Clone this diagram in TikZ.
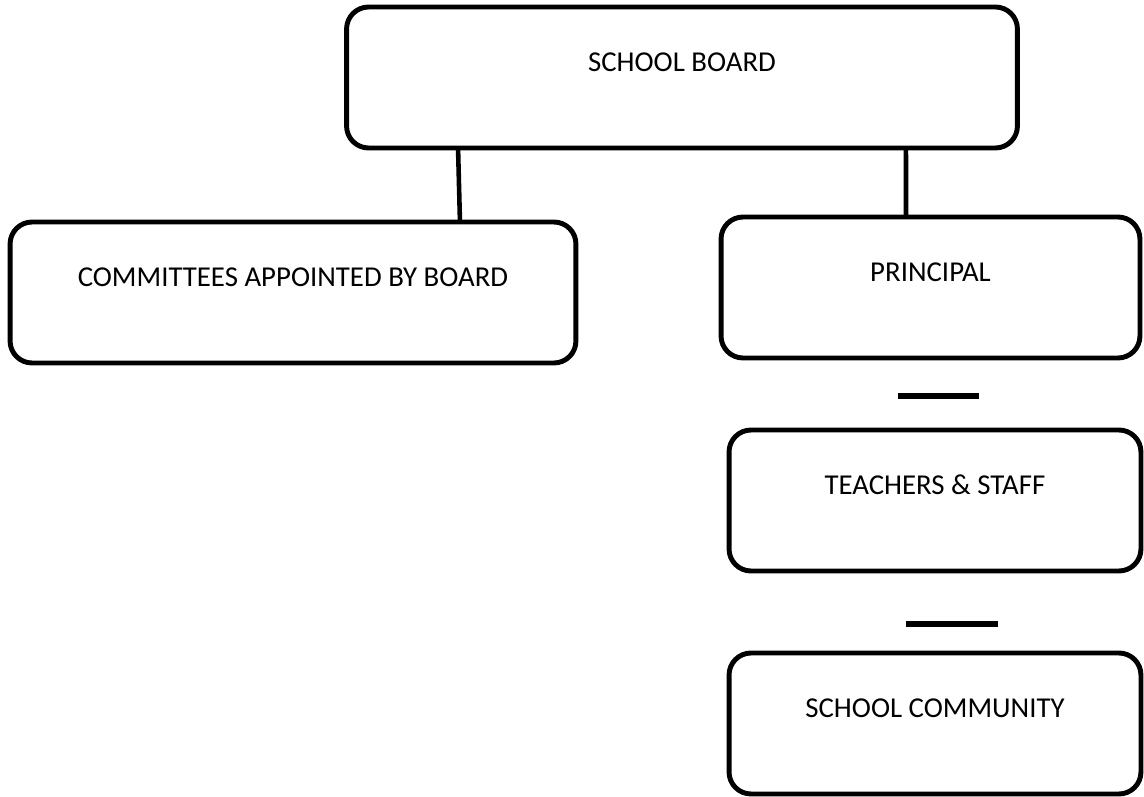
\documentclass[tikz,border=0pt]{standalone}
\usepackage{fontspec}
\setmainfont{Carlito}
\tikzset{
  orgbox/.style={draw, line width=2.8pt, rounded corners=0.44cm, inner sep=0pt, outer sep=0pt,
    text height=1.29cm, text depth=1.53cm, anchor=north,
    font=\fontsize{16.4}{19}\selectfont},
  link/.style={line width=2.6pt},
  dashbar/.style={line width=3.4pt}
}
\begin{document}
\begin{tikzpicture}[x=0.02cm, y=-0.02cm]
    \useasboundingbox (0,0) rectangle (1144,796);

    % Board at the top
    \node[orgbox, minimum width=13.42cm] (board) at (682,7) {SCHOOL BOARD};

    % Second row
    \node[orgbox, minimum width=11.32cm] (committees) at (293,222) {COMMITTEES APPOINTED BY BOARD};
    \node[orgbox, minimum width=8.38cm] (principal) at (930.5,217) {PRINCIPAL};

    % Right column
    \node[orgbox, minimum width=8.24cm] (teachers) at (935,430) {TEACHERS \& STAFF};
    \node[orgbox, minimum width=8.24cm] (community) at (935,653) {SCHOOL COMMUNITY};

    % Links from the board
    \draw[link] ([xshift=-4.48cm]board.south) -- ([xshift=3.34cm]committees.north);
    \draw[link] ([xshift=4.48cm]board.south) -- ([xshift=-0.49cm]principal.north);

    % Short bars between the lower boxes
    \draw[dashbar] (898,396) -- (979,396);
    \draw[dashbar] (906,624) -- (998,624);
\end{tikzpicture}
\end{document}
